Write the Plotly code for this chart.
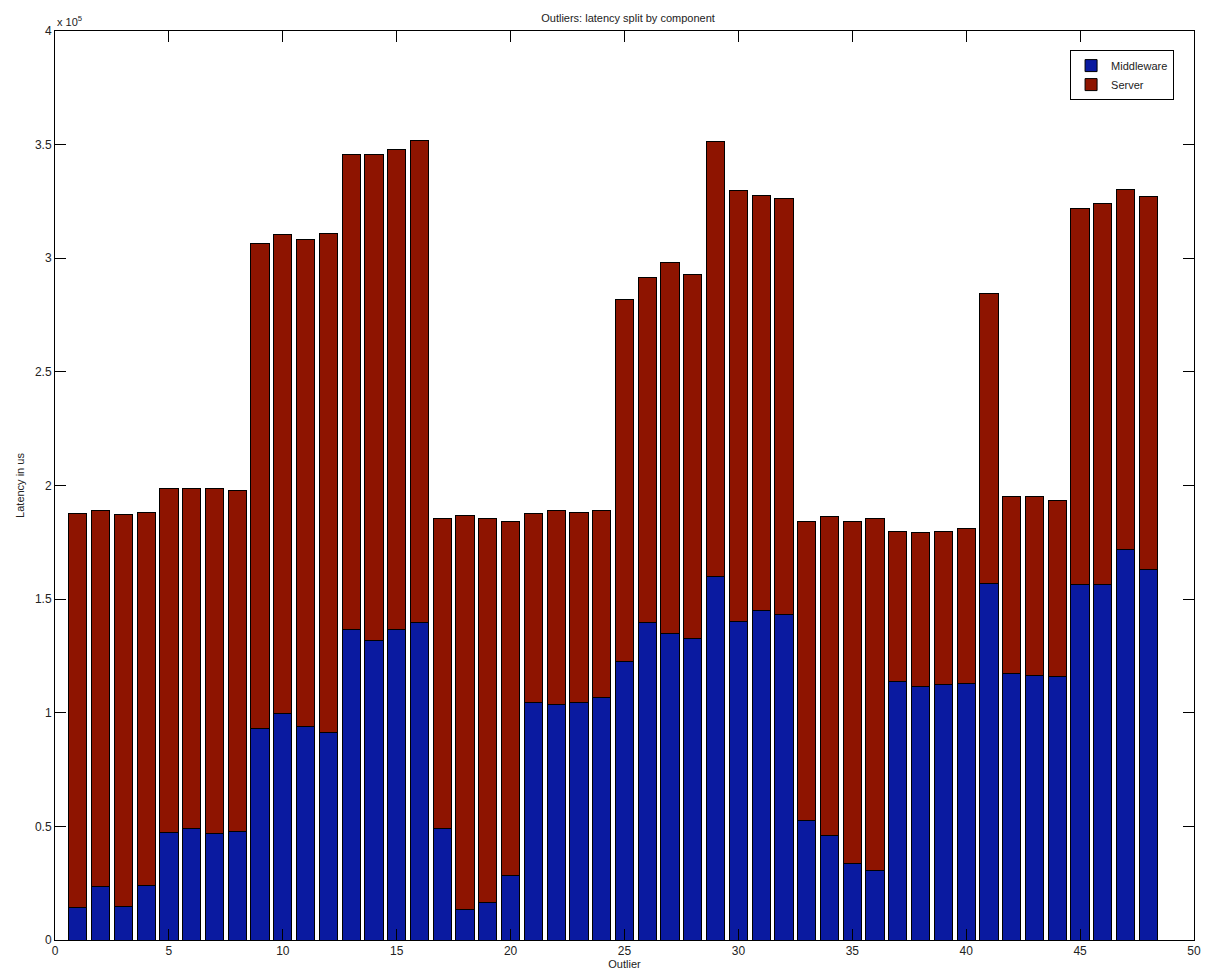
import plotly.graph_objects as go

# Outlier indices and per-component latency (microseconds)
outliers = list(range(1, 49))

total_latency = [
    187500, 188900, 187200, 188100, 198500, 198500, 198500, 197600,
    306600, 310400, 308400, 310900, 345700, 345700, 347800, 352000,
    185700, 186800, 185400, 184100, 187500, 188900, 188100, 188900,
    281800, 291400, 298300, 292700, 351300, 329600, 327400, 326100,
    184100, 186300, 184100, 185700, 179700, 179300, 179700, 181000,
    284400, 195000, 195000, 193600, 322100, 323900, 330300, 327000,
]

middleware_latency = [
    14300, 23700, 14900, 24100, 47300, 49000, 46800, 47700,
    93200, 99500, 93800, 91200, 136700, 132000, 136700, 139500,
    49100, 13600, 16700, 28500, 104400, 103800, 104400, 106600,
    122500, 139500, 134900, 132500, 159800, 140200, 144800, 143400,
    52600, 46100, 33800, 30700, 113900, 111400, 112400, 113000,
    156800, 117200, 116400, 115900, 156500, 156500, 172000, 162900,
]

server_latency = [t - m for t, m in zip(total_latency, middleware_latency)]

y_tick_values = [0, 50000, 100000, 150000, 200000, 250000, 300000, 350000, 400000]
y_tick_labels = ["0", "0.5", "1", "1.5", "2", "2.5", "3", "3.5", "4"]
x_tick_values = [0, 5, 10, 15, 20, 25, 30, 35, 40, 45, 50]

font_family = "Liberation Sans, Arial, Helvetica, sans-serif"

fig = go.Figure()
fig.add_trace(go.Bar(
    x=outliers, y=middleware_latency, name="Middleware",
    marker=dict(color="#0a1aa0", line=dict(color="black", width=1)),
    width=0.8,
))
fig.add_trace(go.Bar(
    x=outliers, y=server_latency, name="Server",
    marker=dict(color="#8e1400", line=dict(color="black", width=1)),
    width=0.8,
))

fig.update_layout(
    barmode="stack",
    width=1211, height=978,
    margin=dict(l=55, r=10, t=31, b=36),
    paper_bgcolor="white", plot_bgcolor="white",
    font=dict(family=font_family, size=11, color="#222222"),
    title=dict(text="Outliers: latency split by component", x=0.5186, xanchor="center",
               y=0.985, yanchor="top", font=dict(size=11, color="#222222")),
    legend=dict(x=0.9825, y=0.979, xanchor="right", yanchor="top",
                bordercolor="black", borderwidth=1, bgcolor="white",
                font=dict(size=11, color="#222222"), traceorder="normal",
                tracegroupgap=0, itemwidth=30),
    showlegend=True,
)

fig.update_xaxes(
    range=[0, 50], tickvals=x_tick_values,
    ticks="inside", ticklen=11, tickcolor="black", tickwidth=1,
    showline=True, linecolor="black", linewidth=1, mirror="ticks",
    showgrid=False, zeroline=False,
    title=dict(text="Outlier", standoff=2, font=dict(size=11)),
    tickfont=dict(size=12),
)
fig.update_yaxes(
    range=[0, 400000], tickvals=y_tick_values, ticktext=y_tick_labels,
    ticks="inside", ticklen=11, tickcolor="black", tickwidth=1,
    showline=True, linecolor="black", linewidth=1, mirror="ticks",
    showgrid=False, zeroline=False,
    title=dict(text="Latency in us", standoff=8, font=dict(size=11)),
    tickfont=dict(size=12),
)

# Exponent marker for the y-axis scale
fig.add_annotation(
    text="x 10<sup>5</sup>", xref="paper", yref="paper", x=0.0, y=1.0,
    xanchor="left", yanchor="bottom", showarrow=False, yshift=1,
    font=dict(size=11, color="#222222"),
)

fig.write_html("out.html")
